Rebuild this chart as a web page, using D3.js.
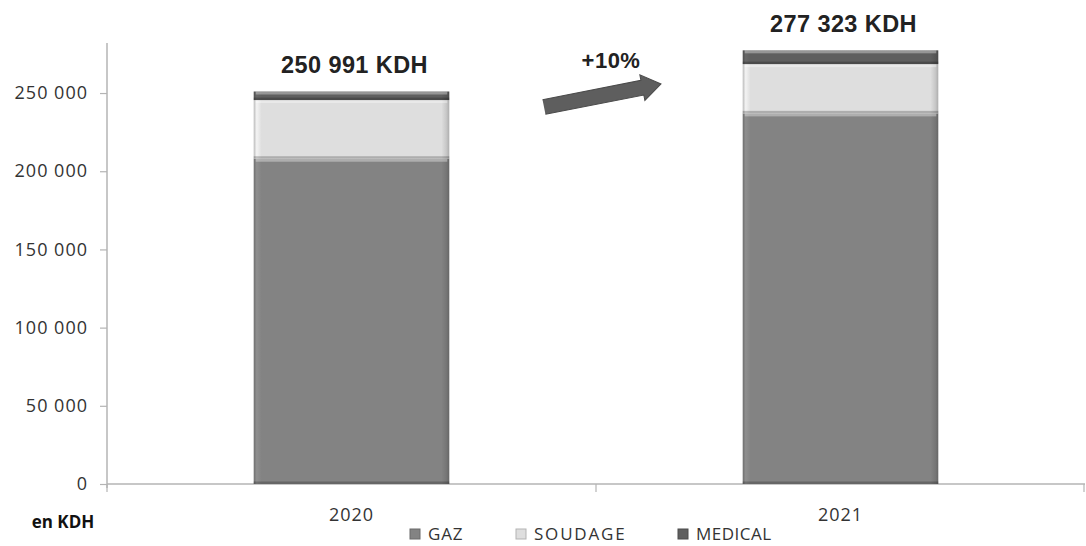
<!DOCTYPE html>
<html>
<head>
<meta charset="utf-8">
<script src="https://cdn.jsdelivr.net/npm/d3@7"></script>
<style>
  html, body { margin: 0; padding: 0; background: #fff; }
  svg { display: block; }
</style>
</head>
<body>
<svg id="chart" width="1086" height="546"></svg>
<script>
// Chiffre d'affaires par activité (KDH)
const years = ["2020", "2021"];
const seriesNames = ["GAZ", "SOUDAGE", "MEDICAL"];
const gaz = [208000, 237000];
const soudage = [37500, 31500];
const medical = [5491, 8823];
const totals = [250991, 277323];
const totalLabels = ["250 991 KDH", "277 323 KDH"];
const growthLabel = "+10%";
const yTicks = [0, 50000, 100000, 150000, 200000, 250000];

const colors = { GAZ: "#838383", SOUDAGE: "#dedede", MEDICAL: "#5f5f5f" };

const svg = d3.select("#chart");
const m = { left: 107, right: 1085, top: 43, bottom: 484 };

const x = d3.scaleBand().domain(years).range([m.left, m.right])
  .paddingInner(0.6).paddingOuter(0.3);
const y = d3.scaleLinear().domain([0, 282000]).range([m.bottom, m.top]);

const rows = years.map((yr, i) => ({ year: yr, GAZ: gaz[i], SOUDAGE: soudage[i], MEDICAL: medical[i] }));
const stacked = d3.stack().keys(seriesNames)(rows);

// gradients giving each segment a soft bevel on its sides
const defs = svg.append("defs");
seriesNames.forEach(k => {
  const c = d3.color(colors[k]);
  const g = defs.append("linearGradient").attr("id", "g-" + k)
    .attr("x1", "0%").attr("x2", "100%").attr("y1", "0%").attr("y2", "0%");
  g.append("stop").attr("offset", "0%").attr("stop-color", c.darker(0.5));
  g.append("stop").attr("offset", "1.5%").attr("stop-color", c.brighter(0.25));
  g.append("stop").attr("offset", "4%").attr("stop-color", c);
  g.append("stop").attr("offset", "96%").attr("stop-color", c);
  g.append("stop").attr("offset", "98.5%").attr("stop-color", c.darker(0.3));
  g.append("stop").attr("offset", "100%").attr("stop-color", c.darker(0.7));
});

const fmt = v => d3.format(",")(v).replace(/,/g, " ");

// y axis
const yAxis = d3.axisLeft(y).tickValues(yTicks).tickSize(7).tickPadding(12).tickFormat(fmt);
const gy = svg.append("g").attr("transform", `translate(${m.left},0)`).call(yAxis);
gy.select(".domain").attr("stroke", "#b4b4b4").attr("stroke-width", 1.5)
  .attr("d", `M0,${m.bottom + 4}V${m.top}`);
gy.selectAll(".tick line").attr("stroke", "#b4b4b4").attr("stroke-width", 1.2);
gy.selectAll(".tick text")
  .attr("fill", "#333").style("font-family", "'Open Sans', sans-serif")
  .style("font-size", "18px").style("letter-spacing", "1px");

// x axis (ticks on category boundaries)
svg.append("line").attr("x1", m.left).attr("x2", m.right).attr("y1", m.bottom).attr("y2", m.bottom)
  .attr("stroke", "#b4b4b4").attr("stroke-width", 1.5);
const boundaries = [m.left, (x("2020") + x.bandwidth() + x("2021")) / 2, m.right - 1];
svg.selectAll(".xb").data(boundaries).enter().append("line")
  .attr("x1", d => d).attr("x2", d => d).attr("y1", m.bottom).attr("y2", m.bottom + 8)
  .attr("stroke", "#b4b4b4").attr("stroke-width", 1.2);
svg.selectAll(".xl").data(years).enter().append("text")
  .attr("x", d => x(d) + x.bandwidth() / 2).attr("y", 521)
  .attr("text-anchor", "middle").attr("fill", "#333")
  .style("font-family", "'Open Sans', sans-serif").style("font-size", "18px")
  .style("letter-spacing", "1px").text(d => d);

// stacked bars
stacked.forEach(layer => {
  const k = layer.key;
  const g = svg.append("g");
  layer.forEach((d, i) => {
    const x0 = x(years[i]), w = x.bandwidth();
    const yt = y(d[1]), yb = y(d[0]), h = yb - yt;
    g.append("rect").attr("x", x0).attr("y", yt).attr("width", w).attr("height", h)
      .attr("fill", `url(#g-${k})`);
    // light top edge
    g.append("rect").attr("x", x0 + 2).attr("y", yt).attr("width", w - 4)
      .attr("height", Math.min(3, h / 2)).attr("fill", "#fff").attr("opacity", 0.35);
    // dark bottom edge
    g.append("rect").attr("x", x0).attr("y", yb - Math.min(2.5, h / 3)).attr("width", w)
      .attr("height", Math.min(2.5, h / 3)).attr("fill", "#000").attr("opacity", 0.22);
  });
});

// total labels above bars
svg.selectAll(".tot").data(years).enter().append("text")
  .attr("x", d => x(d) + x.bandwidth() / 2 + 3)
  .attr("y", (d, i) => y(totals[i]) - 18)
  .attr("text-anchor", "middle").attr("fill", "#222")
  .style("font-family", "'Liberation Sans', Arial, sans-serif").style("font-weight", "bold")
  .style("font-size", "23.5px").style("letter-spacing", "0.4px")
  .text((d, i) => totalLabels[i]);

// growth arrow
const ax0 = 544, ay0 = 107, ax1 = 661, ay1 = 84;
const ang = Math.atan2(ay1 - ay0, ax1 - ax0);
const len = Math.hypot(ax1 - ax0, ay1 - ay0);
const shaft = 7.5, head = 13, headLen = 19;
const arrowPts = [
  [0, -shaft], [len - headLen, -shaft], [len - headLen, -head], [len, 0],
  [len - headLen, head], [len - headLen, shaft], [0, shaft]
];
svg.append("path")
  .attr("d", d3.line()(arrowPts))
  .attr("transform", `translate(${ax0},${ay0}) rotate(${ang * 180 / Math.PI})`)
  .attr("fill", "#5e5e5e").attr("stroke", "#4a4a4a").attr("stroke-width", 1);
svg.append("text").attr("x", 611).attr("y", 68).attr("text-anchor", "middle")
  .attr("fill", "#222")
  .style("font-family", "'Liberation Sans', Arial, sans-serif").style("font-weight", "bold")
  .style("font-size", "22px").style("letter-spacing", "0.5px").text(growthLabel);

// unit label
svg.append("text").attr("x", 63).attr("y", 528).attr("text-anchor", "middle")
  .attr("fill", "#111")
  .style("font-family", "'Open Sans', sans-serif").style("font-weight", "bold")
  .style("font-size", "17px").text("en KDH");

// legend
const legendX = [410, 516, 678];
const legendSpacing = [0.8, 1.8, 0.5];
const lg = svg.selectAll(".lg").data(seriesNames).enter().append("g")
  .attr("transform", (d, i) => `translate(${legendX[i]},529)`);
lg.append("rect").attr("width", 10).attr("height", 10)
  .attr("fill", d => colors[d]).attr("stroke", d => d3.color(colors[d]).darker(0.6)).attr("stroke-width", 1);
lg.append("text").attr("x", 18).attr("y", 11)
  .attr("fill", "#333")
  .style("font-family", "'Open Sans', sans-serif").style("font-size", "17px")
  .style("letter-spacing", (d, i) => legendSpacing[i] + "px").text(d => d);
</script>
</body>
</html>
